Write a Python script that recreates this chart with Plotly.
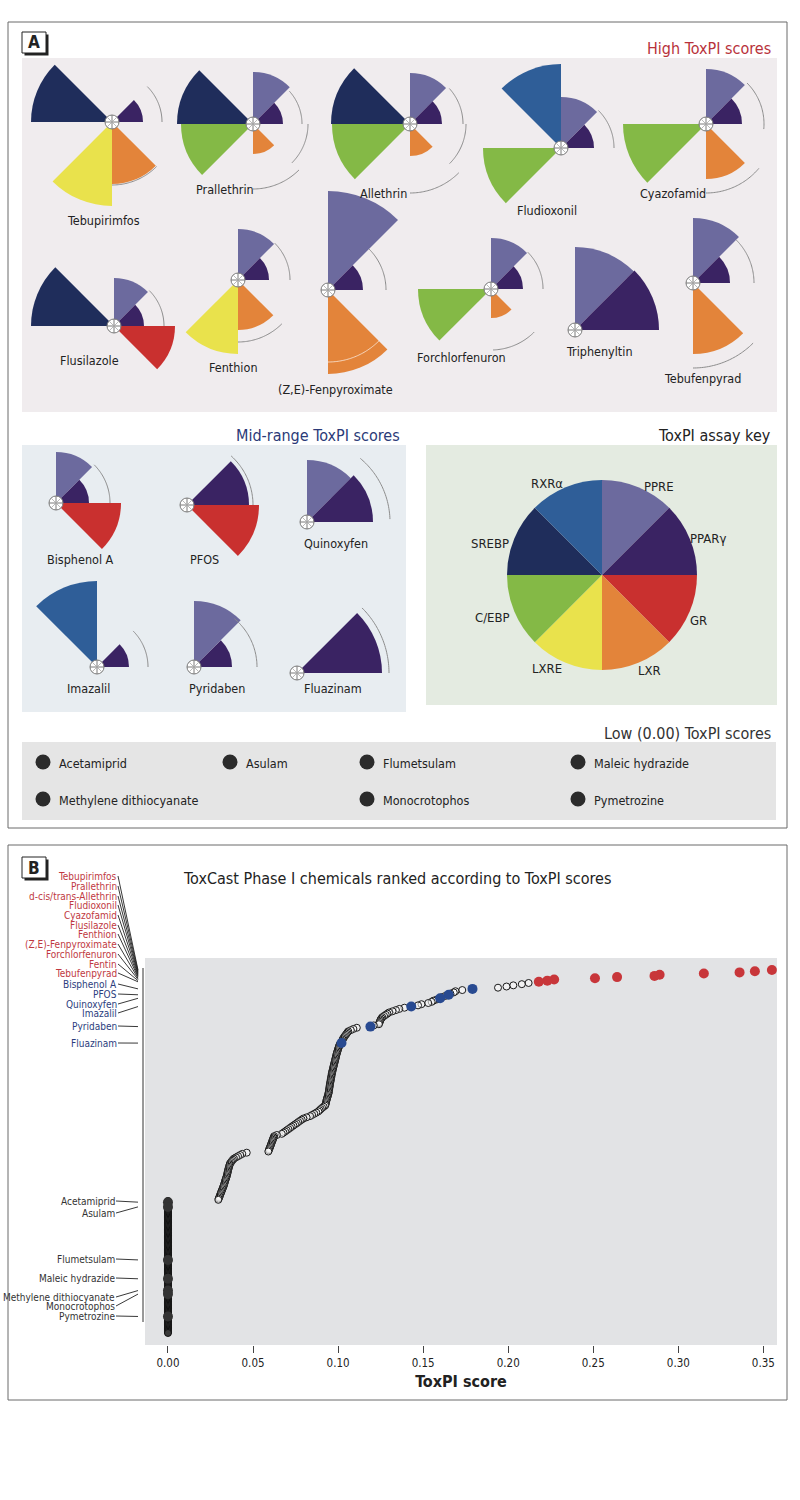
import numpy as np
import plotly.graph_objects as go

W, H = 800, 1500
FONT = "DejaVu Sans Condensed, Liberation Sans Narrow, Arial Narrow, sans-serif"

# ---------------- data ----------------
assays = ["PPRE", "PPARγ", "GR", "LXR", "LXRE", "C/EBP", "SREBP", "RXRα"]
assay_colors = ["#6c6a9e", "#3a2363", "#c9302f", "#e3843a", "#e9e24c", "#84b946", "#1f2d5b", "#2f5e98"]
assay_theta = [22.5, 67.5, 112.5, 157.5, 202.5, 247.5, 292.5, 337.5]
key_slices = [1, 1, 1, 1, 1, 1, 1, 1]

high_names = ["Tebupirimfos", "Prallethrin", "Allethrin", "Fludioxonil", "Cyazofamid",
              "Flusilazole", "Fenthion", "(Z,E)-Fenpyroximate", "Forchlorfenuron",
              "Triphenyltin", "Tebufenpyrad"]
# slice radii, order = assays
high_slices = [
    [0.00, 0.31, 0.00, 0.62, 0.84, 0.00, 0.81, 0.00],
    [0.52, 0.30, 0.00, 0.30, 0.00, 0.72, 0.76, 0.00],
    [0.51, 0.32, 0.00, 0.32, 0.00, 0.78, 0.79, 0.00],
    [0.51, 0.33, 0.00, 0.00, 0.00, 0.78, 0.00, 0.84],
    [0.55, 0.36, 0.00, 0.55, 0.00, 0.83, 0.00, 0.00],
    [0.48, 0.30, 0.61, 0.00, 0.00, 0.00, 0.83, 0.00],
    [0.51, 0.31, 0.00, 0.50, 0.74, 0.00, 0.00, 0.00],
    [0.99, 0.35, 0.00, 0.84, 0.00, 0.00, 0.00, 0.00],
    [0.51, 0.32, 0.00, 0.29, 0.00, 0.73, 0.00, 0.00],
    [0.83, 0.84, 0.00, 0.00, 0.00, 0.00, 0.00, 0.00],
    [0.65, 0.37, 0.00, 0.71, 0.00, 0.00, 0.00, 0.00],
]
# thin confidence arcs: (theta start, theta end, radius, style)
high_arcs = [
    [(45, 90, 0.50, "g"), (135, 180, 0.63, "g")],
    [(48, 90, 0.49, "g"), (90, 135, 0.55, "g"), (135, 180, 0.65, "g")],
    [(48, 90, 0.53, "g"), (90, 135, 0.56, "g"), (135, 180, 0.69, "g")],
    [(45, 90, 0.53, "g")],
    [(45, 95, 0.58, "g"), (130, 180, 0.69, "g")],
    [(45, 90, 0.50, "g")],
    [(45, 90, 0.52, "g"), (135, 180, 0.62, "g")],
    [(45, 90, 0.58, "g"), (135, 180, 0.72, "w")],
    [(45, 90, 0.52, "g"), (135, 178, 0.61, "g")],
    [],
    [(45, 90, 0.61, "g"), (135, 180, 0.85, "g")],
]

mid_names = ["Bisphenol A", "PFOS", "Quinoxyfen", "Imazalil", "Pyridaben", "Fluazinam"]
mid_slices = [
    [0.51, 0.33, 0.65, 0.00, 0.00, 0.00, 0.00, 0.00],
    [0.00, 0.62, 0.72, 0.00, 0.00, 0.00, 0.00, 0.00],
    [0.62, 0.66, 0.00, 0.00, 0.00, 0.00, 0.00, 0.00],
    [0.00, 0.32, 0.00, 0.00, 0.00, 0.00, 0.00, 0.86],
    [0.66, 0.38, 0.00, 0.00, 0.00, 0.00, 0.00, 0.00],
    [0.00, 0.85, 0.00, 0.00, 0.00, 0.00, 0.00, 0.00],
]
mid_arcs = [
    [(45, 90, 0.54, "g")],
    [(42, 90, 0.66, "g")],
    [(40, 88, 0.83, "g")],
    [(45, 90, 0.51, "g")],
    [(40, 90, 0.63, "g")],
    [(45, 90, 0.92, "g")],
]

low_names = ["Acetamiprid", "Asulam", "Flumetsulam", "Maleic hydrazide",
             "Methylene dithiocyanate", "Monocrotophos", "Pymetrozine"]

# Panel B: ToxPI scores of all chemicals, ranked (rank 1 = highest)
scores = [
    0.355, 0.345, 0.336, 0.315, 0.289, 0.286, 0.264, 0.251, 0.227, 0.223, 0.218,
    0.212, 0.208, 0.203, 0.199, 0.194, 0.179, 0.173, 0.169, 0.168, 0.166,
    0.165, 0.163, 0.161, 0.160, 0.158, 0.156, 0.155, 0.153, 0.149, 0.147,
    0.143, 0.139, 0.136, 0.134, 0.132, 0.130, 0.129, 0.128, 0.127, 0.126,
    0.1255, 0.125, 0.1248, 0.1245, 0.1242, 0.124, 0.121, 0.119, 0.111, 0.109,
    0.1075, 0.106, 0.1055, 0.105, 0.1045, 0.104, 0.1035, 0.103, 0.1027, 0.1024,
    0.1022, 0.102,
    0.1010, 0.1007, 0.1005, 0.1003, 0.1000, 0.0998, 0.0996, 0.0994, 0.0992,
    0.0990, 0.0988, 0.0987, 0.0985, 0.0983, 0.0982, 0.0980, 0.0978, 0.0976, 0.0975,
    0.0973, 0.0971, 0.0970, 0.0968, 0.0966, 0.0965, 0.0963,
    0.0962, 0.0961, 0.0960, 0.0958, 0.0957, 0.0956, 0.0955, 0.0953, 0.0952, 0.0951,
    0.0950, 0.0949, 0.0948, 0.0947, 0.0946, 0.0945, 0.0943,
    0.0941, 0.0939, 0.0937, 0.0935, 0.0933, 0.0931, 0.0930, 0.0928, 0.0926, 0.0924,
    0.0915, 0.0906, 0.0898, 0.0891, 0.0884,
    0.0872, 0.0860, 0.0847, 0.0835, 0.0815, 0.0796,
    0.0786, 0.0776, 0.0766, 0.0757, 0.0747, 0.0737,
    0.0727, 0.0718, 0.0708, 0.0698, 0.0689, 0.0679, 0.0669,
    0.0640, 0.0624,
    0.0621, 0.0619, 0.0616, 0.0614, 0.0611, 0.0608, 0.0606, 0.0603, 0.0601, 0.0598,
    0.0595, 0.0593, 0.0590,
    0.0463, 0.0437, 0.0424, 0.0412, 0.0400, 0.0388, 0.0382, 0.0376, 0.0371, 0.0365,
    0.0363, 0.0361, 0.0359, 0.0357, 0.0355, 0.0353, 0.0352, 0.0350, 0.0349,
    0.0347, 0.0345, 0.0343, 0.0341, 0.0338, 0.0336, 0.0334, 0.0332, 0.0330, 0.0328, 0.0325,
    0.0322, 0.0320, 0.0317, 0.0314, 0.0312, 0.0309, 0.0306, 0.0304, 0.0301, 0.0298, 0.0296,
    0, 0, 0, 0, 0, 0, 0, 0, 0, 0, 0, 0, 0, 0, 0, 0, 0, 0, 0, 0,
    0, 0, 0, 0, 0, 0, 0, 0, 0, 0, 0, 0, 0, 0, 0, 0, 0, 0, 0, 0,
    0, 0, 0, 0, 0, 0, 0, 0, 0, 0, 0, 0, 0, 0, 0, 0, 0, 0, 0, 0,
    0, 0, 0, 0, 0, 0, 0, 0, 0, 0, 0, 0, 0, 0, 0, 0, 0, 0, 0, 0,
    0, 0, 0, 0, 0, 0, 0, 0, 0, 0, 0, 0, 0, 0, 0, 0, 0, 0, 0, 0,
    0, 0, 0, 0, 0, 0, 0, 0, 0, 0, 0, 0, 0,
]
high_labels_b = ["Tebupirimfos", "Prallethrin", "d-cis/trans-Allethrin", "Fludioxonil",
                 "Cyazofamid", "Flusilazole", "Fenthion", "(Z,E)-Fenpyroximate",
                 "Forchlorfenuron", "Fentin", "Tebufenpyrad"]
high_ranks = [1, 2, 3, 4, 5, 6, 7, 8, 9, 10, 11]
mid_ranks = [17, 22, 25, 32, 49, 63]
low_ranks = [198, 202, 247, 263, 273, 276, 295]
x_ticks = [0.0, 0.05, 0.10, 0.15, 0.20, 0.25, 0.30, 0.35]

# ---------------- layout constants (pixels) ----------------
PX = 100  # pixels per unit slice radius
high_pos = [(112, 122), (253, 124), (410, 124), (561, 148), (706, 124), (114, 326),
            (238, 280), (328, 290), (491, 289), (575, 330), (693, 283)]
high_lab = [(103, 220), (225, 189), (383, 194), (547, 210), (673, 193), (89, 360),
            (233, 367), (335, 389), (461, 357), (599, 351), (702, 378)]
mid_pos = [(56, 503), (187, 505), (307, 522), (97, 667), (194, 667), (297, 673)]
mid_lab = [(80, 559), (205, 559), (336, 543), (88, 688), (217, 688), (333, 688)]
key_pos = (602, 575)
key_lab = [(659, 486), (708, 538), (698, 620), (649, 670), (547, 668), (492, 618), (490, 543), (547, 483)]

high_lab_b_y = [876, 886, 896, 905, 915, 925, 934, 944, 954, 964, 973]
mid_lab_b_y = [984, 994, 1004, 1013, 1026, 1043]
low_lab_b_y = [1201, 1213, 1259, 1278, 1297, 1306, 1316]

low_leg = [(43, 762), (230, 762), (367, 762), (578, 762), (43, 799), (367, 799), (578, 799)]

PLOT_X0, PLOT_X1, PLOT_Y0, PLOT_Y1 = 145, 777, 958, 1345
XR = [-0.0135, 0.358]
YR = [319.2, -9.2]


def px(x):
    return x / W


def py(y):
    return 1 - y / H


def px_to_rank(y):
    return YR[0] + (y - PLOT_Y1) * (YR[1] - YR[0]) / (PLOT_Y0 - PLOT_Y1)


fig = go.Figure()
polar_layouts = {}
count = [0]


def add_pie(rv, cx, cy, arcs, scale, center=True):
    count[0] += 1
    name = "polar" if count[0] == 1 else "polar%d" % count[0]
    rmax = max(list(rv) + [a[2] for a in arcs])
    ext = rmax * scale + 9
    if cx - ext < 0:
        dom_x = [px(cx), px(cx + ext)]
        sector = [-90, 90]
    else:
        dom_x = [px(cx - ext), px(cx + ext)]
        sector = [0, 360]
    dom_y = [py(cy + ext), py(cy - ext)]
    fig.add_trace(go.Barpolar(r=rv, theta=assay_theta, width=[45] * 8,
                              marker=dict(color=assay_colors, line=dict(width=0)),
                              subplot=name, showlegend=False, hoverinfo="skip"))
    for a0, a1, ra, st in arcs:
        th = np.linspace(a0, a1, 40)
        fig.add_trace(go.Scatterpolar(
            r=[ra] * len(th), theta=th, mode="lines",
            line=dict(color="#8c8c8c" if st == "g" else "rgba(255,255,255,0.65)", width=1),
            subplot=name, showlegend=False, hoverinfo="skip", cliponaxis=False))
    if center:
        fig.add_trace(go.Scatterpolar(r=[0], theta=[0], mode="markers",
                                      marker=dict(symbol="circle-cross", size=14, color="white",
                                                  line=dict(color="#7a7a7a", width=1)),
                                      subplot=name, showlegend=False, hoverinfo="skip", cliponaxis=False))
        fig.add_trace(go.Scatterpolar(r=[0], theta=[0], mode="markers",
                                      marker=dict(symbol="x-thin", size=9,
                                                  line=dict(color="#a8a8a8", width=0.8)),
                                      subplot=name, showlegend=False, hoverinfo="skip", cliponaxis=False))
    polar_layouts[name] = dict(
        domain=dict(x=dom_x, y=dom_y), sector=sector, bgcolor="rgba(0,0,0,0)", hole=0,
        angularaxis=dict(visible=False, rotation=90, direction="clockwise"),
        radialaxis=dict(visible=False, range=[0, ext / scale]))


for rv, (cx, cy), arcs in zip(high_slices, high_pos, high_arcs):
    add_pie(rv, cx, cy, arcs, PX)
for rv, (cx, cy), arcs in zip(mid_slices, mid_pos, mid_arcs):
    add_pie(rv, cx, cy, arcs, PX)
add_pie(key_slices, key_pos[0], key_pos[1], [], 95, center=False)

# ---------------- Panel B scatter ----------------
ranks = list(range(1, len(scores) + 1))
named = set(high_ranks + mid_ranks + low_ranks)
ox = [s for r, s in zip(ranks, scores) if r not in named and s > 0]
oy = [r for r, s in zip(ranks, scores) if r not in named and s > 0]
zx = [s for r, s in zip(ranks, scores) if r not in named and s == 0]
zy = [r for r, s in zip(ranks, scores) if r not in named and s == 0]
fig.add_trace(go.Scatter(x=ox, y=oy, mode="markers",
                         marker=dict(size=7, color="rgba(255,255,255,0.55)",
                                     line=dict(color="#1a1a1a", width=1)),
                         showlegend=False, hoverinfo="skip"))
fig.add_trace(go.Scatter(x=zx, y=zy, mode="markers",
                         marker=dict(size=7, color="#3a3a3a",
                                     line=dict(color="#111111", width=1)),
                         showlegend=False, hoverinfo="skip"))
fig.add_trace(go.Scatter(x=[scores[r - 1] for r in low_ranks], y=low_ranks, mode="markers",
                         marker=dict(size=10, color="#333333"), showlegend=False, hoverinfo="skip"))
fig.add_trace(go.Scatter(x=[scores[r - 1] for r in mid_ranks], y=mid_ranks, mode="markers",
                         marker=dict(size=10, color="#284a91"), showlegend=False, hoverinfo="skip"))
fig.add_trace(go.Scatter(x=[scores[r - 1] for r in high_ranks], y=high_ranks, mode="markers",
                         marker=dict(size=10, color="#c8363a"), showlegend=False, hoverinfo="skip"))

# ---------------- shapes ----------------
shapes = []


def rect(x0, y0, x1, y1, **kw):
    d = dict(type="rect", xref="paper", yref="paper", x0=px(x0), x1=px(x1), y0=py(y1), y1=py(y0))
    d.update(kw)
    return d


shapes.append(rect(22, 58, 777, 412, fillcolor="#f0ecee", line=dict(width=0), layer="below"))
shapes.append(rect(22, 445, 406, 712, fillcolor="#e8edf1", line=dict(width=0), layer="below"))
shapes.append(rect(426, 445, 777, 705, fillcolor="#e4ebe1", line=dict(width=0), layer="below"))
shapes.append(rect(22, 742, 776, 820, fillcolor="#e5e5e5", line=dict(width=0), layer="below"))
shapes.append(rect(8, 22, 787, 828, line=dict(color="#6a6a6a", width=1)))
shapes.append(rect(8, 845, 787, 1400, line=dict(color="#6a6a6a", width=1)))
# panel letter boxes with shadow
for (bx, by) in [(22, 32), (22, 857)]:
    shapes.append(rect(bx + 2.5, by + 2.5, bx + 26.5, by + 23.5, fillcolor="#222", line=dict(width=0)))
    shapes.append(rect(bx, by, bx + 24, by + 21, fillcolor="white", line=dict(color="#222", width=1)))
# low-score legend dots
for (lx, ly) in low_leg:
    shapes.append(dict(type="circle", xref="paper", yref="paper", x0=px(lx - 7.5), x1=px(lx + 7.5),
                       y0=py(ly + 7.5), y1=py(ly - 7.5), fillcolor="#2b2b2b", line=dict(width=0)))
# panel B left axis line
shapes.append(dict(type="line", xref="paper", yref="paper", x0=px(143), x1=px(143),
                   y0=py(968), y1=py(1322), line=dict(color="#333", width=1)))

# ---------------- annotations ----------------
ann = []


def text(x, y, s, size=13, color="#222", xanchor="center", bold=False):
    ann.append(dict(x=px(x), y=py(y), xref="paper", yref="paper", text=("<b>%s</b>" % s) if bold else s,
                    showarrow=False, xanchor=xanchor, yanchor="middle",
                    font=dict(family=FONT, size=size, color=color)))


text(34, 42.5, "A", size=17, bold=True)
text(34, 867.5, "B", size=17, bold=True)
text(773, 48, "High ToxPI scores", size=16, color="#b8323b", xanchor="right")
text(402, 436, "Mid-range ToxPI scores", size=16, color="#2b3a78", xanchor="right")
text(773, 436, "ToxPI assay key", size=16, color="#222", xanchor="right")
text(773, 733, "Low (0.00) ToxPI scores", size=16, color="#333", xanchor="right")
for nm, (lx, ly) in zip(high_names, high_lab):
    text(lx, ly, nm, size=12.5)
for nm, (lx, ly) in zip(mid_names, mid_lab):
    text(lx, ly, nm, size=12.5)
for nm, (lx, ly) in zip(assays, key_lab):
    text(lx, ly, nm, size=13)
for nm, (lx, ly) in zip(low_names, low_leg):
    text(lx + 14, ly + 1, nm, size=12.5, xanchor="left")
text(397, 878, "ToxCast Phase I chemicals ranked according to ToxPI scores", size=16, color="#222")


def leader(label, rank, ylab, color, tail_x=118, head_x=138):
    ann.append(dict(x=px(head_x), y=rank, xref="paper", yref="y", text=label,
                    showarrow=True, arrowhead=0, arrowwidth=0.9, arrowcolor="#222",
                    axref="pixel", ax=tail_x - head_x, ayref="y", ay=px_to_rank(ylab),
                    xanchor="right", yanchor="middle", borderpad=0,
                    font=dict(family=FONT, size=10, color=color)))


for lab, rk, yl in zip(high_labels_b, high_ranks, high_lab_b_y):
    leader(lab, rk, yl, "#c0393f")
for lab, rk, yl in zip(mid_names, mid_ranks, mid_lab_b_y):
    leader(lab, rk, yl, "#2b3d7d")
for lab, rk, yl in zip(low_names, low_ranks, low_lab_b_y):
    leader(lab, rk, yl, "#333333", tail_x=116)

fig.update_layout(
    width=W, height=H, autosize=False, margin=dict(l=0, r=0, t=0, b=0),
    paper_bgcolor="white", plot_bgcolor="#e2e3e5", showlegend=False,
    font=dict(family=FONT, color="#222"),
    shapes=shapes, annotations=ann,
    xaxis=dict(domain=[px(PLOT_X0), px(PLOT_X1)], range=XR, showgrid=False, zeroline=False,
               showline=False, ticks="outside", ticklen=7, tickcolor="#444", tickwidth=1,
               tickvals=x_ticks, ticktext=["%.2f" % v for v in x_ticks],
               tickfont=dict(family=FONT, size=11.5, color="#222"),
               title=dict(text="<b>ToxPI score</b>", font=dict(family=FONT, size=16, color="#222"), standoff=7)),
    yaxis=dict(domain=[py(PLOT_Y1), py(PLOT_Y0)], range=YR, visible=False, showgrid=False, zeroline=False),
    **polar_layouts,
)

fig.write_html("out.html", config={"displayModeBar": False},
               post_script="document.body.style.margin='0';")
